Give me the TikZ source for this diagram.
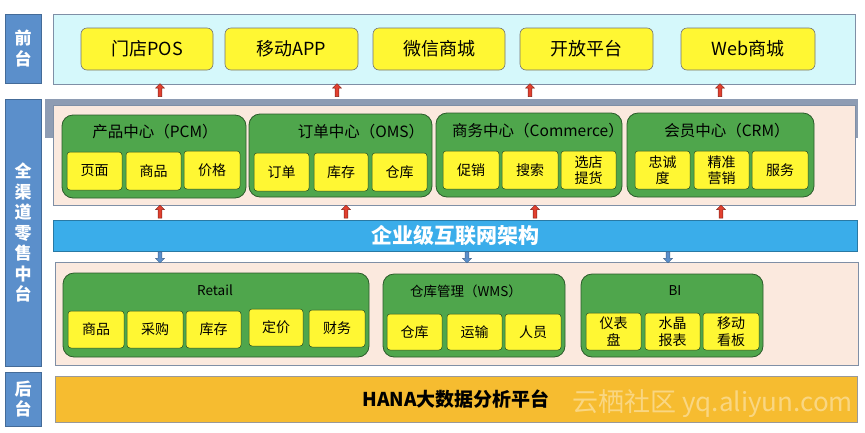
\documentclass[tikz,border=0pt]{standalone}
\usepackage{fontspec}
\setmainfont{Noto Sans CJK SC}
\usetikzlibrary{shapes.arrows}
\definecolor{lblue}{HTML}{5B8FCB}
\definecolor{cyanbg}{HTML}{D5F8FB}
\definecolor{ybox}{HTML}{FFF733}
\definecolor{gbox}{HTML}{4FA64C}
\definecolor{beige}{HTML}{FBE9DE}
\definecolor{grayband}{HTML}{8E9CB3}
\definecolor{bband}{HTML}{3AADEA}
\definecolor{orng}{HTML}{F6BC30}
\definecolor{redarr}{HTML}{E2402F}
\definecolor{edgec}{HTML}{7F8FA6}
\newcommand{\bx}[7]{\node[#6, minimum width={(#4-#2)*1pt}, minimum height={(#5-#3)*1pt}] (#1) at ({(#2+#4)/2},{(#3+#5)/2}) {#7};}
\tikzset{
  base/.style={inner sep=0pt, outer sep=0pt, draw, align=center},
  lbl/.style={base, fill=lblue, draw=lblue!75!black, text=white, line width=0.6pt, font=\fontsize{17}{20.5}\bfseries},
  panel/.style={base, draw=edgec, line width=0.8pt},
  ytop/.style={base, fill=ybox, draw=black!55, line width=0.6pt, rounded corners=6pt, font=\fontsize{18}{20}\selectfont},
  gr/.style={base, fill=gbox, draw=gbox!55!black, rounded corners=11pt, line width=0.8pt},
  gtitle/.style={inner sep=0pt, font=\fontsize{15.5}{18}\selectfont},
  gtitles/.style={inner sep=0pt, font=\fontsize{13.5}{16}\selectfont},
  ysub/.style={base, fill=ybox, draw=gbox!45!black, line width=0.5pt, rounded corners=3pt, font=\fontsize{14}{16.5}\selectfont},
  uparr/.style={single arrow, shape border rotate=90, draw=redarr!55!black, fill=redarr, line width=0.4pt,
    minimum height=13pt, minimum width=9pt, single arrow head extend=2.5pt, inner sep=1.5pt, single arrow tip angle=90},
  dnarr/.style={single arrow, shape border rotate=270, draw=lblue!70!black, fill=lblue, line width=0.4pt,
    minimum height=11pt, minimum width=9pt, single arrow head extend=2.5pt, inner sep=1.5pt, single arrow tip angle=90},
}
\begin{document}
\begin{tikzpicture}[x=1pt,y=-1pt]
\useasboundingbox[fill=white] (0,0) rectangle (865,432);
% left labels
\bx{lfront}{5}{14}{41}{83}{lbl}{前\\台}
\bx{lmid}{5}{99}{41}{366}{lbl}{全\\渠\\道\\零\\售\\中\\台}
\bx{lback}{5}{372}{41}{426}{lbl}{后\\台}
% top panel
\bx{toppanel}{53}{14}{855}{84}{panel, fill=cyanbg}{}
\bx{pos}{81}{28}{213}{70}{ytop}{门店POS}
\bx{app}{225}{28}{358}{70}{ytop}{移动APP}
\bx{wx}{373}{28}{505}{70}{ytop}{微信商城}
\bx{open}{520}{28}{653}{70}{ytop}{开放平台}
\bx{web}{681}{28}{815}{70}{ytop}{Web商城}
% gray band and upper beige panel
\bx{grayb}{45}{99}{858}{138}{base, fill=grayband, draw=none}{}
\bx{midpanel}{53}{105}{855}{205}{panel, fill=beige}{}
% green centers
\bx{pcm}{62}{115}{246}{198}{gr}{}
\node[gtitle] (pcmt) at (155,132) {产品中心（PCM）};
\bx{pcm1}{67}{152}{122}{190}{ysub}{页面}
\bx{pcm2}{126}{152}{181}{190}{ysub}{商品}
\bx{pcm3}{184}{151}{240}{189}{ysub}{价格}
\bx{oms}{249}{114}{432}{197}{gr}{}
\node[gtitle] (omst) at (361,132) {订单中心（OMS）};
\bx{oms1}{254}{153}{309}{191}{ysub}{订单}
\bx{oms2}{314}{153}{368}{191}{ysub}{库存}
\bx{oms3}{372}{153}{427}{191}{ysub}{仓库}
\bx{com}{436}{113}{622}{197}{gr}{}
\node[gtitle] (comt) at (538,131) {商务中心（Commerce）};
\bx{com1}{443}{151}{499}{189}{ysub}{促销}
\bx{com2}{502}{151}{558}{189}{ysub}{搜索}
\bx{com3}{561}{151}{616}{189}{ysub}{选店\\提货}
\bx{crm}{627}{113}{814}{197}{gr}{}
\node[gtitle] (crmt) at (727,131) {会员中心（CRM）};
\bx{crm1}{635}{151}{690}{189}{ysub}{忠诚\\度}
\bx{crm2}{694}{151}{749}{189}{ysub}{精准\\营销}
\bx{crm3}{752}{151}{808}{189}{ysub}{服务}
% blue band
\bx{arch}{53}{220}{857}{251}{base, fill=bband, draw=bband!70!black, line width=0.6pt, text=white, font=\fontsize{21}{24}\bfseries}{企业级互联网架构}
% lower beige panel
\bx{lowpanel}{55}{262}{858}{365}{panel, fill=beige}{}
\bx{retail}{63}{273}{369}{357}{gr}{}
\node[gtitles] (retailt) at (215,290) {Retail};
\bx{ret1}{68}{311}{124}{348}{ysub}{商品}
\bx{ret2}{127}{311}{183}{348}{ysub}{采购}
\bx{ret3}{186}{311}{241}{348}{ysub}{库存}
\bx{ret4}{249}{309}{303}{346}{ysub}{定价}
\bx{ret5}{309}{310}{365}{347}{ysub}{财务}
\bx{wms}{383}{274}{565}{357}{gr}{}
\node[gtitles] (wmst) at (466,291) {仓库管理（WMS）};
\bx{wms1}{387}{314}{442}{350}{ysub}{仓库}
\bx{wms2}{447}{314}{502}{350}{ysub}{运输}
\bx{wms3}{505}{314}{561}{350}{ysub}{人员}
\bx{bi}{581}{274}{763}{357}{gr}{}
\node[gtitles] (bit) at (675,291) {BI};
\bx{bi1}{586}{313}{641}{350}{ysub}{仪表\\盘}
\bx{bi2}{645}{313}{700}{350}{ysub}{水晶\\报表}
\bx{bi3}{703}{313}{759}{350}{ysub}{移动\\看板}
% bottom band
\bx{hana}{55}{376}{857}{422}{base, fill=orng, draw=black!40, line width=0.6pt, font=\fontsize{19}{22}\bfseries}{HANA大数据分析平台}
\node[inner sep=0pt, text=white, opacity=0.4, font=\fontsize{26}{28}\selectfont, anchor=east] (wm) at (853,404) {云栖社区 yq.aliyun.com};
% arrows
\foreach \x/\n in {160/a1,337/a2,530/a3,720/a4}{
  \node[uparr] (up\n) at (\x,91) {};
}
\foreach \x/\n in {160/b1,346/b2,535/b3,721/b4}{
  \node[uparr] (up\n) at (\x,212.5) {};
}
\foreach \x/\n in {160/c1,467/c2,668/c3}{
  \node[dnarr] (dn\n) at (\x,256.5) {};
}
\end{tikzpicture}
\end{document}
